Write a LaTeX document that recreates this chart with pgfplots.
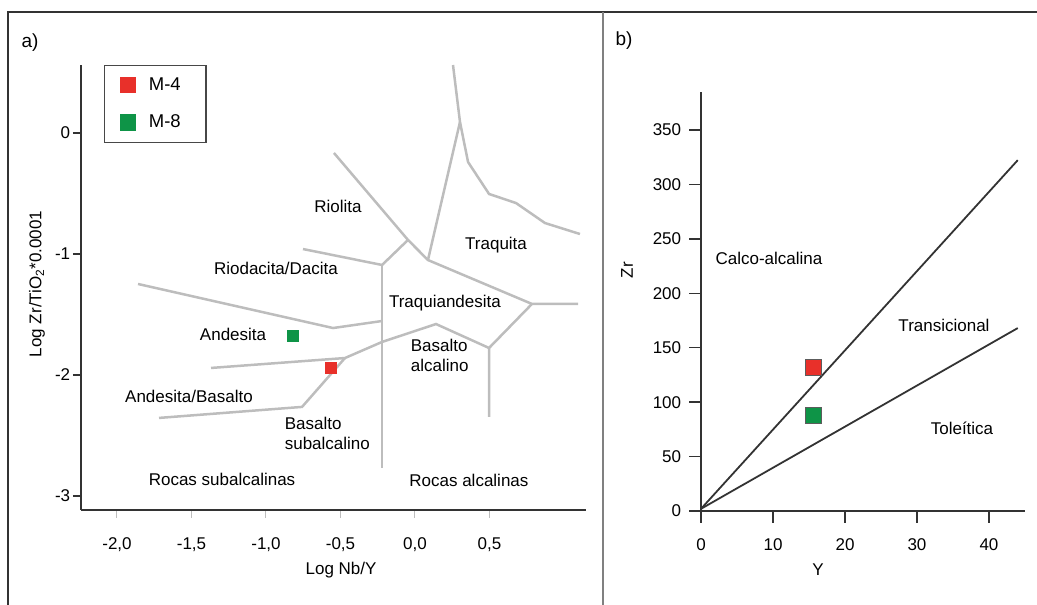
\documentclass[border=0pt]{standalone}
\usepackage{pgfplots}
\pgfplotsset{compat=1.18}
\usepackage{fontspec}
\setmainfont{Liberation Sans}
\definecolor{mred}{HTML}{E8302A}
\definecolor{mgreen}{HTML}{0E9447}
\definecolor{bline}{HTML}{BDBDBD}
\definecolor{dk}{HTML}{333333}
\begin{document}
\fontsize{17}{20}\selectfont
\begin{tikzpicture}[x=1pt,y=1pt]
\useasboundingbox (0pt,0pt) rectangle (1037pt,605pt);
\draw[dk, line width=2pt] (8pt,-2pt) -- (8pt,593pt) -- (1040pt,593pt);
\draw[gray, line width=2pt] (603pt,-2pt) -- (603pt,593pt);
\node[font=\fontsize{19}{20}\selectfont] at (30pt,562pt) {a)};
\node[font=\fontsize{19}{20}\selectfont] at (624pt,564pt) {b)};

% ---------------- panel a ----------------
\begin{axis}[
  at={(81pt,95pt)}, anchor=south west, scale only axis,
  width=505pt, height=445pt,
  xmin=-2.2416, xmax=1.1477, ymin=-3.116, ymax=0.562,
  axis x line=bottom, axis y line=left,
  axis line style={-, dk, line width=1.8pt},
  tick align=outside, major tick length=8pt,
  xtick={-2,-1.5,-1,-0.5,0,0.5},
  xticklabels={{-2,0},{-1,5},{-1,0},{-0,5},{0,0},{0,5}},
  ytick={-3,-2,-1,0}, yticklabels={{-3},{-2},{-1},{0}},
  xtick style={bline, line width=1pt},
  ytick style={dk, line width=1.5pt},
  tick label style={font=\fontsize{17}{20}\selectfont},
  xticklabel style={yshift=-14pt},
  yticklabel style={xshift=3pt},
  xlabel={Log Nb/Y},
  xlabel style={at={(axis description cs:0.515,-0.135)}, anchor=center, font=\fontsize{17}{20}\selectfont},
  ylabel={Log Zr/TiO\textsubscript{2}*0.0001},
  ylabel style={at={(axis description cs:-0.087,0.508)}, anchor=center, font=\fontsize{17}{20}\selectfont},
  clip=false,
  legend style={at={(rel axis cs:0.0455,1)}, anchor=north west, draw=dk!90, line width=1.3pt,
    inner xsep=0pt, inner ysep=7pt, row sep=12pt, column sep=0pt,
    nodes={font=\fontsize{18.5}{20}\selectfont, inner sep=5pt, text width=52pt, align=left}},
  legend cell align=left,
]
\addlegendimage{legend image code/.code={\path (0pt,0pt) (38pt,0pt); \fill[mred] (15.5pt,-7.5pt) rectangle (30.5pt,7.5pt);}}
\addlegendentry{M-4}
\addlegendimage{legend image code/.code={\path (0pt,0pt) (38pt,0pt); \fill[mgreen] (15.5pt,-7.5pt) rectangle (30.5pt,7.5pt);}}
\addlegendentry{M-8}

\addplot[bline, line width=2.5pt, forget plot] coordinates {(0.255,0.562) (0.302,0.091) (0.356,-0.240) (0.497,-0.504) (0.678,-0.579) (0.872,-0.744) (1.107,-0.835)};
\addplot[bline, line width=2.5pt, forget plot] coordinates {(0.302,0.091) (0.087,-1.050)};
\addplot[bline, line width=2.5pt, forget plot] coordinates {(-0.544,-0.165) (-0.047,-0.884) (0.087,-1.050) (0.785,-1.413) (1.094,-1.413)};
\addplot[bline, line width=2.5pt, forget plot] coordinates {(-0.047,-0.884) (-0.221,-1.091)};
\addplot[bline, line width=2.5pt, forget plot] coordinates {(-0.752,-0.959) (-0.221,-1.091)};
\addplot[bline, line width=2.5pt, forget plot] coordinates {(-0.221,-1.091) (-0.221,-2.769)};
\addplot[bline, line width=2.5pt, forget plot] coordinates {(-1.859,-1.248) (-0.550,-1.612) (-0.221,-1.554)};
\addplot[bline, line width=2.5pt, forget plot] coordinates {(0.785,-1.413) (0.497,-1.777) (0.497,-2.347)};
\addplot[bline, line width=2.5pt, forget plot] coordinates {(-1.369,-1.942) (-0.470,-1.860) (-0.221,-1.727) (0.141,-1.579) (0.497,-1.777)};
\addplot[bline, line width=2.5pt, forget plot] coordinates {(-1.718,-2.355) (-0.758,-2.264) (-0.470,-1.860)};

\addplot[only marks, mark=square*, mark size=5.5pt, mark options={fill=mred, draw=mred}, forget plot] coordinates {(-0.564,-1.942)};
\addplot[only marks, mark=square*, mark size=5.5pt, mark options={fill=mgreen, draw=mgreen}, forget plot] coordinates {(-0.819,-1.678)};

\node at (axis cs:-0.517,-0.603) {Riolita};
\node at (axis cs:0.544,-0.926) {Traquita};
\node at (axis cs:-0.933,-1.116) {Riodacita/Dacita};
\node at (axis cs:0.201,-1.405) {Traquiandesita};
\node at (axis cs:-1.221,-1.661) {Andesita};
\node[anchor=west, align=left, font=\fontsize{17}{20}\selectfont] at (axis cs:-0.067,-1.835) {Basalto\\alcalino};
\node at (axis cs:-1.517,-2.174) {Andesita/Basalto};
\node[anchor=west, align=left, font=\fontsize{17}{20}\selectfont] at (axis cs:-0.913,-2.479) {Basalto\\subalcalino};
\node at (axis cs:-1.295,-2.860) {Rocas subalcalinas};
\node at (axis cs:0.362,-2.868) {Rocas alcalinas};
\end{axis}

% ---------------- panel b ----------------
\begin{axis}[
  at={(701pt,94pt)}, anchor=south west, scale only axis,
  width=324pt, height=419pt,
  xmin=0, xmax=45, ymin=0, ymax=385,
  axis x line=bottom, axis y line=left,
  axis line style={-, dk, line width=1.8pt},
  tick align=outside, major tick length=12pt,
  xtick={0,10,20,30,40},
  ytick={0,50,100,150,200,250,300,350},
  tick style={dk, line width=1.5pt},
  /pgf/number format/assume math mode=true,
  tick label style={font=\fontsize{17}{20}\selectfont},
  xticklabel style={yshift=-10pt},
  yticklabel style={xshift=-2pt},
  xlabel={Y},
  xlabel style={at={(axis description cs:0.361,-0.141)}, anchor=center, font=\fontsize{17}{20}\selectfont},
  ylabel={Zr},
  ylabel style={at={(axis description cs:-0.228,0.575)}, anchor=center, font=\fontsize{17}{20}\selectfont},
  clip=false,
]
\addplot[dk, line width=1.8pt] coordinates {(0,2) (44,322.4)};
\addplot[dk, line width=1.8pt] coordinates {(0,2) (44,168.1)};
\addplot[only marks, mark=square*, mark size=8pt, mark options={fill=mred, draw=dk!80, line width=1pt}] coordinates {(15.6,131.4)};
\addplot[only marks, mark=square*, mark size=8pt, mark options={fill=mgreen, draw=dk!80, line width=1pt}] coordinates {(15.6,87.3)};
\node at (axis cs:9.44,232.4) {Calco-alcalina};
\node at (axis cs:33.75,170.9) {Transicional};
\node at (axis cs:36.25,76.2) {Toleítica};
\end{axis}
\end{tikzpicture}
\end{document}
